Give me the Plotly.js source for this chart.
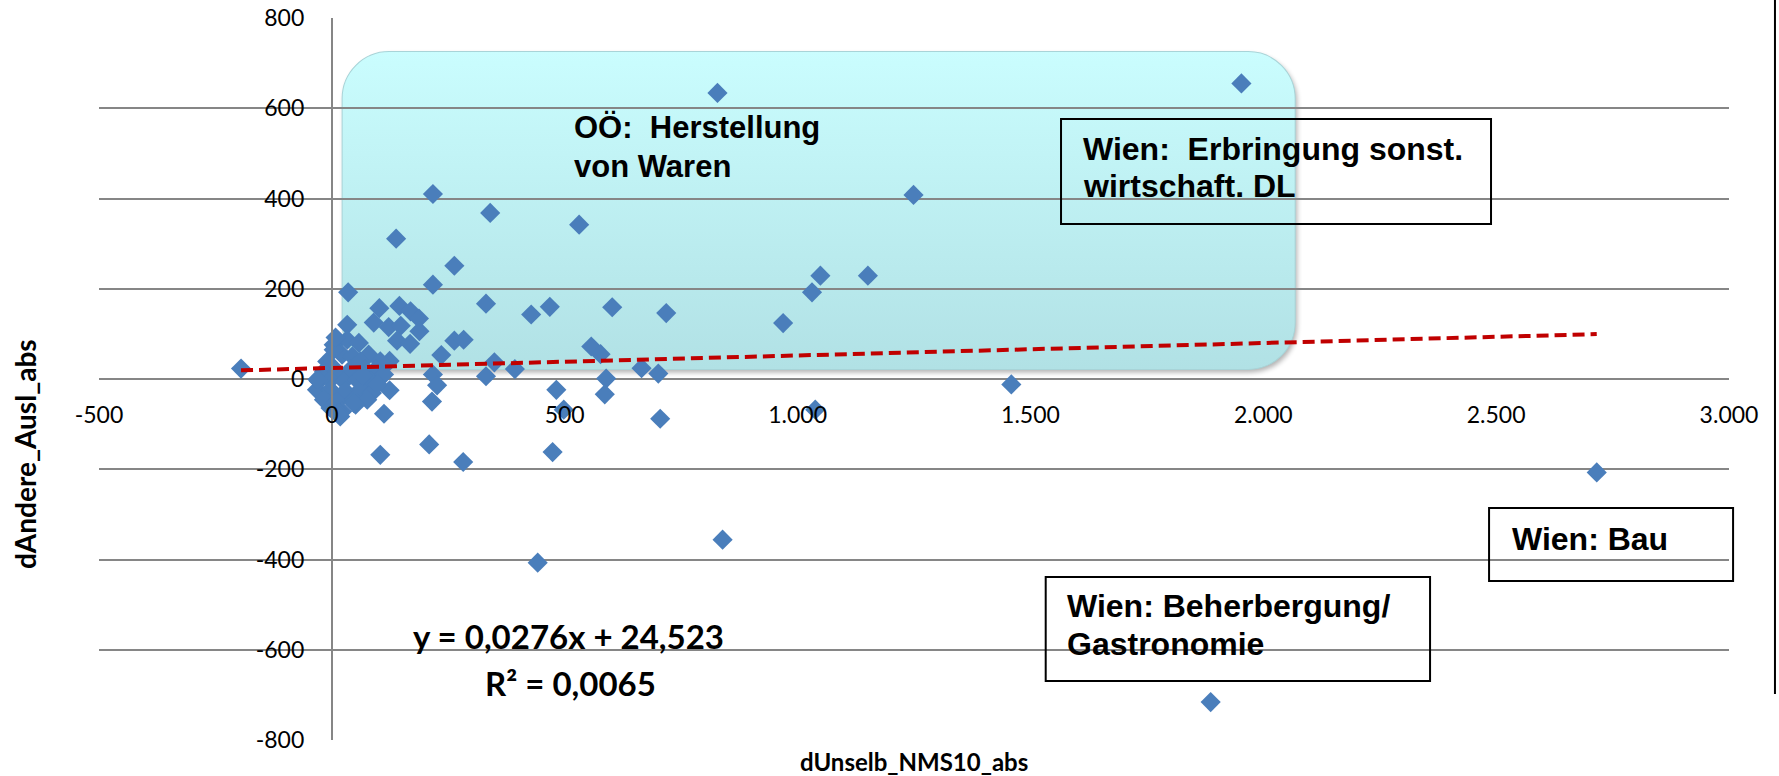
<!DOCTYPE html>
<html>
<head>
<meta charset="utf-8">
<script src="https://cdn.plot.ly/plotly-3.0.1.min.js"></script>
<style>html,body{margin:0;padding:0;background:#fff;}#chart{width:1779px;height:776px;}</style>
</head>
<body>
<div id="chart"></div>
<script>
// ---- data ----
const xVals = [
  -195, 35, 33, 138, 217, 217, 263, 340, 531, 331, 428, 468, 602, 718, 102, 145, 169, 187, 90, 122,
  148, 188, 140, 168, 263, 283, 235, 124, 349, 393, 331, 217, 226, 124, 215, 112, 104, 209, 282, 482,
  498, 474, 557, 577, 589, 586, 665, 701, 705, 828, 1249, 1049, 1151, 1031, 969, 1038, 1459, 1953, 2716, 1887,
  839, 442,
  4, 33, 58, 22, 44, 79, -10, 61, 104, -17, 11, 40, 72, 94, -28, -3, 26, 54, 83, -32,
  -3, 29, 61, 86, -17, 11, 47, 76, -3, 22, 51, 4, 15, -31, 47, 8, 18, 112, 98, 66
];
const yVals = [
  23, 192, 120, 311, 410, 209, 251, 368, 342, 167, 143, 160, 159, 146, 157, 162, 150, 134, 125, 115,
  118, 106, 85, 78, 85, 87, 53, 40, 37, 22, 6, 10, -14, -25, -50, -77, -168, -145, -184, -24,
  -68, -162, 72, 55, 1, -34, 24, 12, -88, 634, 408, 229, 229, 192, 124, -68, -12, 655, -207, -716,
  -356, -407,
  76, 87, 80, 54, 50, 54, 39, 39, 39, 17, 17, 21, 21, 21, -5, -2, -5, -2, -5, -24,
  -24, -27, -24, -31, -46, -50, -46, -46, -64, -72, -57, 65, -75, -1, -53, 92, -83, 10, -12, 8
];
const trendSlope = 0.0276;
const trendIntercept = 24.523;

const xTickVals = [-500, 0, 500, 1000, 1500, 2000, 2500, 3000];
const xTickText = ['-500', '0', '500', '1.000', '1.500', '2.000', '2.500', '3.000'];
const yTickVals = [-800, -600, -400, -200, 0, 200, 400, 600, 800];
const yTickText = ['-800', '-600', '-400', '-200', '0', '200', '400', '600', '800'];

const xTitle = 'dUnselb_NMS10_abs';
const yTitle = 'dAndere_Ausl_abs';
const eqLine1 = 'y = 0,0276x + 24,523';
const eqLine2 = 'R² = 0,0065';

// ---- build ----
const xMin = Math.min(...xVals), xMax = Math.max(...xVals);
const trendX = [xMin, xMax];
const trendY = trendX.map(v => trendSlope * v + trendIntercept);

const svg = '<svg xmlns="http://www.w3.org/2000/svg" width="967" height="332" viewBox="0 0 967 332">' +
  '<defs><linearGradient id="g" x1="0" y1="0" x2="0" y2="1">' +
  '<stop offset="0" stop-color="#CAFDFE"/><stop offset="1" stop-color="#B1E1E5"/></linearGradient>' +
  '<filter id="s" x="-5%" y="-10%" width="110%" height="125%"><feGaussianBlur stdDeviation="2.5"/></filter></defs>' +
  '<rect x="6" y="7" width="953" height="318" rx="47" ry="47" fill="#000" opacity="0.3" filter="url(#s)"/>' +
  '<rect x="4" y="4" width="953" height="318" rx="47" ry="47" fill="url(#g)" stroke="#A8D4D8" stroke-width="1"/>' +
  '</svg>';
const svgUri = 'data:image/svg+xml;charset=utf-8,' + encodeURIComponent(svg);

const armFont = 'Liberation Sans, Arial, sans-serif';
const calFont = 'Lato, Carlito, Calibri, sans-serif';

const traces = [
  {
    type: 'scatter', mode: 'markers', x: xVals, y: yVals,
    marker: {symbol: 'diamond', size: 15.5, color: '#4A7EBB', line: {width: 0}},
    hoverinfo: 'skip', showlegend: false
  },
  {
    type: 'scatter', mode: 'lines', x: trendX, y: trendY,
    line: {color: '#C00000', width: 4, dash: '12px,6px'},
    hoverinfo: 'skip', showlegend: false
  }
];

function txt(text, x, y, size, family, xanchor, extra) {
  return Object.assign({
    text: text, x: x, y: y, xref: 'paper', yref: 'paper',
    xanchor: xanchor || 'left', yanchor: 'middle', showarrow: false,
    font: {family: family, size: size, color: '#000'}
  }, extra || {});
}

const annotations = [
  txt('<b>OÖ:  Herstellung</b>', 0.2902, 0.8482, 31, armFont),
  txt('<b>von Waren</b>', 0.2902, 0.7942, 31, armFont),
  txt('<b>Wien:  Erbringung sonst.</b>', 0.6025, 0.8186, 32, armFont),
  txt('<b>wirtschaft. DL</b>', 0.6025, 0.7673, 32, armFont),
  txt('<b>Wien: Bau</b>', 0.8656, 0.2784, 32, armFont),
  txt('<b>Wien: Beherbergung/</b>', 0.5926, 0.1856, 32, armFont),
  txt('<b>Gastronomie</b>', 0.5926, 0.1330, 32, armFont),
  txt('<b>' + eqLine1 + '</b>', 0.2883, 0.1446, 33, calFont, 'center'),
  txt('<b>' + eqLine2 + '</b>', 0.2890, 0.0795, 33, calFont, 'center'),
  txt('<b>' + xTitle + '</b>', 0.5, -0.0301, 24, calFont, 'center'),
  txt('<b>' + yTitle + '</b>', -0.0454, 0.3961, 28, calFont, 'center', {textangle: -90})
];

const boxLine = {color: '#000', width: 2};
const shapes = [
  {type: 'rect', xref: 'paper', yref: 'paper', x0: 0.5902, x1: 0.8540, y0: 0.7147, y1: 0.8601, line: boxLine, fillcolor: 'rgba(0,0,0,0)', layer: 'above'},
  {type: 'rect', xref: 'paper', yref: 'paper', x0: 0.8528, x1: 1.0025, y0: 0.2202, y1: 0.3213, line: boxLine, fillcolor: 'rgba(0,0,0,0)', layer: 'above'},
  {type: 'rect', xref: 'paper', yref: 'paper', x0: 0.5808, x1: 0.8166, y0: 0.0817, y1: 0.2258, line: boxLine, fillcolor: 'rgba(0,0,0,0)', layer: 'above'},
  {type: 'line', xref: 'paper', yref: 'paper', x0: 1.0282, x1: 1.0282, y0: 1.03, y1: 0.0637, line: {color: '#000', width: 2}}
];

const layout = {
  width: 1779, height: 776,
  margin: {l: 99, r: 50, t: 18, b: 36, pad: 0},
  paper_bgcolor: '#fff', plot_bgcolor: 'rgba(0,0,0,0)',
  showlegend: false, hovermode: false,
  xaxis: {
    range: [-500, 3000], tickvals: xTickVals, ticktext: xTickText,
    showgrid: false, zeroline: false, showline: false, ticks: '',
    anchor: 'free', position: 0.5, automargin: false,
    ticklabelstandoff: 20,
    tickfont: {family: calFont, size: 23, color: '#000'}
  },
  yaxis: {
    range: [-800, 800], tickvals: yTickVals, ticktext: yTickText,
    showgrid: true, gridcolor: '#868686', gridwidth: 2,
    zeroline: false, showline: true, linecolor: '#868686', linewidth: 2, ticks: '',
    anchor: 'free', position: 1 / 7, automargin: false,
    ticklabelstandoff: 22,
    tickfont: {family: calFont, size: 23, color: '#000'}
  },
  images: [{
    source: svgUri, xref: 'x', yref: 'y',
    x: 13.5, y: 734.4, sizex: 2076.4, sizey: 735.3,
    xanchor: 'left', yanchor: 'top', sizing: 'stretch', layer: 'below'
  }],
  annotations: annotations,
  shapes: shapes
};

Plotly.newPlot('chart', traces, layout, {displayModeBar: false, staticPlot: true});
</script>
</body>
</html>
